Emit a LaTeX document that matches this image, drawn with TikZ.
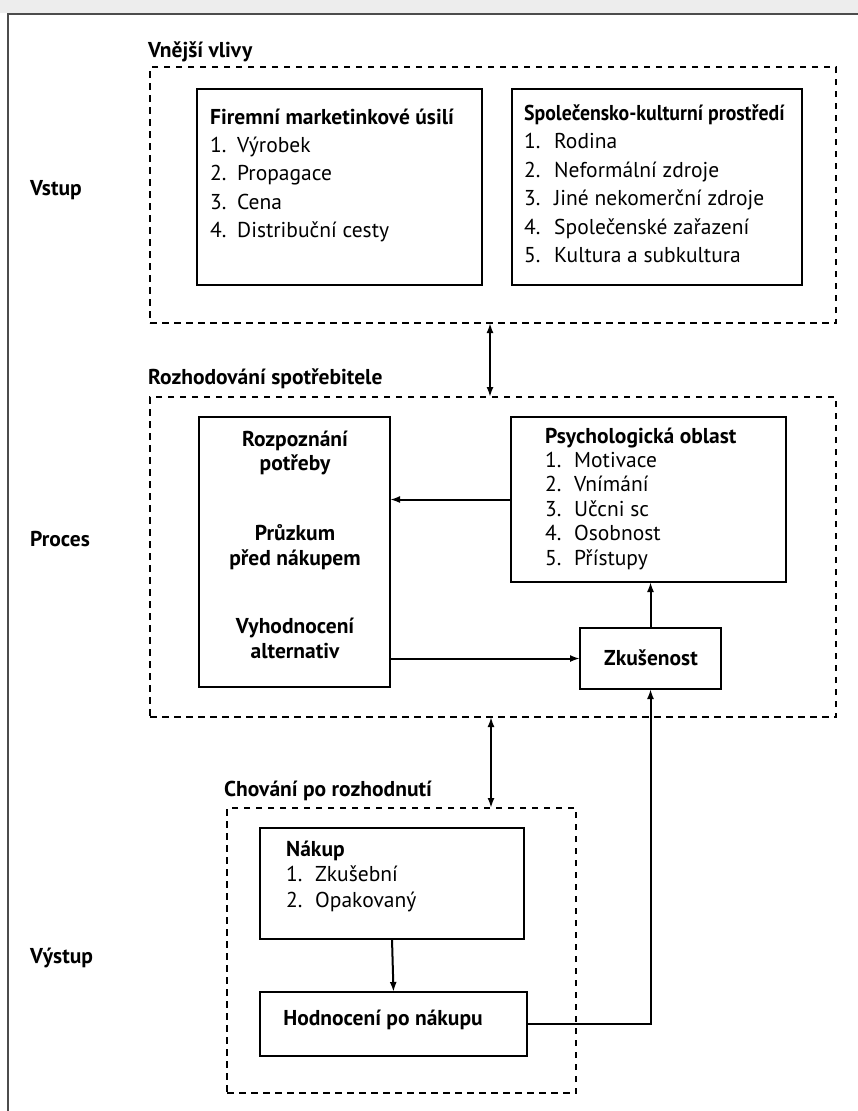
\documentclass[tikz,border=0pt]{standalone}
\usepackage{graphicx}
\usepackage{fontspec}
\setmainfont{PT Sans}
\usetikzlibrary{arrows.meta,positioning}
\begin{document}
\begin{tikzpicture}[x=1pt,y=-1pt,
  box/.style={draw, line width=2pt, inner sep=0pt, outer sep=0pt, anchor=north west},
  grp/.style={draw, line width=2.2pt, dash pattern=on 6.5pt off 5.5pt, inner sep=0pt, outer sep=0pt, anchor=north west},
  txt/.style={inner sep=0pt, anchor=base west, font=\fontsize{21.5}{24}\selectfont},
  btxt/.style={txt, font=\fontsize{21.5}{24}\selectfont\bfseries},
  ctxt/.style={btxt, anchor=base},
  arr/.style={line width=2pt, -{Latex[length=10pt,width=7pt]}},
  darr/.style={line width=2pt, {Latex[length=10pt,width=7pt]}-{Latex[length=10pt,width=7pt]}},
  frame/.style={line width=2pt, draw=black!70}
]
\useasboundingbox (0,0) rectangle (858,1111);
\fill[black!7] (0,0) rectangle (858,13);
\draw[frame] (8,1111) -- (8,14) -- (858,14);

% group boxes
\node[grp, minimum width=686pt, minimum height=256pt] (g1) at (150,67) {};
\node[grp, minimum width=686pt, minimum height=320pt] (g2) at (150,397) {};
\node[grp, minimum width=349pt, minimum height=285pt] (g3) at (227,808) {};

% group labels
\node[btxt] (lvnejsi) at (148,57) {Vnější vlivy};
\node[btxt] (lrozh) at (148,384) {Rozhodování spotřebitele};
\node[btxt] (lchov) at (224,796) {Chování po rozhodnutí};
\node[btxt] (lvstup) at (30,195) {Vstup};
\node[btxt] (lproces) at (30,546) {Proces};
\node[btxt] (lvystup) at (30,963) {Výstup};

% input boxes
\node[box, minimum width=285pt, minimum height=196pt] (fme) at (197,89) {};
\node[box, minimum width=290pt, minimum height=196pt] (skp) at (512,89) {};

\node[btxt] (fmeh) at (210,124) {Firemní marketinkové úsilí};
\foreach \n/\t [count=\i] in {1./Výrobek, 2./Propagace, 3./Cena, 4./Distribuční cesty}{
  \node[txt] (fmen\i) at (210,{124+28.4*\i}) {\n};
  \node[txt] (fmet\i) at (237,{124+28.4*\i}) {\t};
}
\node[btxt] (skph) at (524,120) {\scalebox{0.92}[1]{Společensko-kulturní prostředí}};
\foreach \n/\t [count=\i] in {1./Rodina, 2./Neformální zdroje, 3./Jiné nekomerční zdroje, 4./Společenské zařazení, 5./Kultura a subkultura}{
  \node[txt] (skpn\i) at (524,{120+28.5*\i}) {\n};
  \node[txt] (skpt\i) at (554,{120+28.5*\i}) {\t};
}

% process boxes
\node[box, minimum width=191pt, minimum height=270pt] (lb) at (199,417) {};
\node[ctxt] (lb1) at (295,446) {Rozpoznání};
\node[ctxt] (lb2) at (295,470) {potřeby};
\node[ctxt] (lb3) at (295,540) {Průzkum};
\node[ctxt] (lb4) at (295,565) {před nákupem};
\node[ctxt] (lb5) at (295,633) {Vyhodnocení};
\node[ctxt] (lb6) at (295,658) {alternativ};

\node[box, minimum width=275pt, minimum height=165pt] (psy) at (511,417) {};
\node[btxt] (psyh) at (545,443) {Psychologická oblast};
\foreach \n/\t [count=\i] in {1./Motivace, 2./Vnímání, 3./Učcni sc, 4./Osobnost, 5./Přístupy}{
  \node[txt] (psyn\i) at (545,{443+24.4*\i}) {\n};
  \node[txt] (psyt\i) at (574,{443+24.4*\i}) {\t};
}

\node[box, minimum width=141pt, minimum height=61pt] (zk) at (580,628) {};
\node[ctxt] (zkt) at (651,665) {Zkušenost};

% output boxes
\node[box, minimum width=264pt, minimum height=111pt] (nak) at (260,828) {};
\node[btxt] (nakh) at (286,856) {Nákup};
\foreach \n/\t [count=\i] in {1./Zkušební, 2./Opakovaný}{
  \node[txt] (nakn\i) at (286,{856+25.5*\i}) {\n};
  \node[txt] (nakt\i) at (315,{856+25.5*\i}) {\t};
}
\node[box, minimum width=267pt, minimum height=64pt] (hod) at (260,992) {};
\node[ctxt] (hodt) at (383,1025) {Hodnocení po nákupu};

% connectors
\coordinate (ax1) at (490,0);
\coordinate (ax2) at (491,0);
\draw[darr] (g1.south -| ax1) -- (g2.north -| ax1);
\draw[darr] (g2.south -| ax2) -- (g3.north -| ax2);
\draw[arr] (psy.west) -- (psy.west -| lb.east);
\draw[arr] (zk.west -| lb.east) -- (zk.west);
\draw[arr] (zk.north) -- (zk.north |- psy.south);
\draw[arr] (nak.south) -- (hod.north);
\draw[arr] (hod.east) -| (zk.south);
\end{tikzpicture}
\end{document}
